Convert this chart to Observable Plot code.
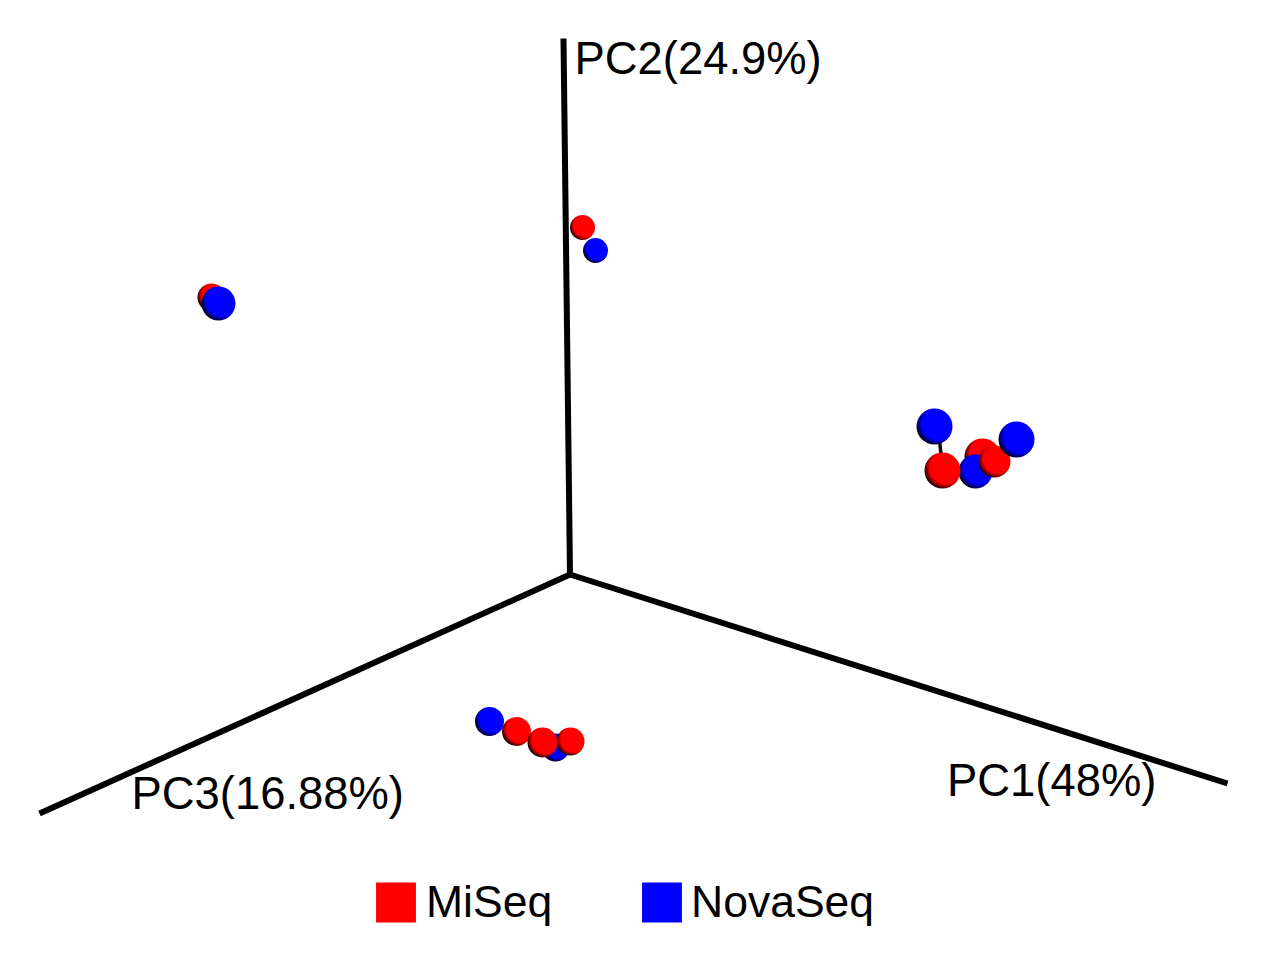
<!DOCTYPE html>
<html>
<head>
<meta charset="utf-8">
<script src="https://cdn.jsdelivr.net/npm/d3@7"></script>
<script src="https://cdn.jsdelivr.net/npm/@observablehq/plot@0.6"></script>
<style>html,body{margin:0;padding:0;background:#fff}svg{display:block}</style>
</head>
<body>
<div id="chart"></div>
<script>
// Projected PCoA positions; listed back to front
const sampleGroup = ["MiSeq","NovaSeq","MiSeq","NovaSeq","MiSeq","NovaSeq","MiSeq","NovaSeq","NovaSeq","MiSeq","NovaSeq","MiSeq","NovaSeq","MiSeq","MiSeq"];
const sampleX = [211,218,582,595,982,975,994,934,1016,942,489,516,555,570,542];
const sampleY = [297,303,227,250,456,471,461,426,439,470,721,731,747,741,742];
const sampleR = [14,17,12.5,12.5,18,17,16,18,18,18,14.5,14.5,14,14,15];

const axisNames = ["PC1(48%)","PC2(24.9%)","PC3(16.88%)"];
const axisEndX = [1227,563,39];
const axisEndY = [783,38,813];
const originX = 569.5;
const originY = 574;
const axisLabelX = [946.5,574,131];
const axisLabelY = [781,59,794];

const groups = ["MiSeq","NovaSeq"];
const groupColors = ["#ff0000","#0000ff"];
const shadeColors = ["#1a0303","#030318"];
const legendSwatchX = [395.5,661.5];
const legendLabelX = [425.5,690.5];
const legendY = [902,902];

// Paired-sample connector seen between two spheres
const linkX1 = [939];
const linkY1 = [440];
const linkX2 = [941];
const linkY2 = [458];

const samples = sampleX.map((x, i) => ({x, y: sampleY[i], r: sampleR[i], group: sampleGroup[i]}));
const axesData = axisNames.map((name, i) => ({name, x: axisEndX[i], y: axisEndY[i], lx: axisLabelX[i], ly: axisLabelY[i]}));
const legendData = groups.map((name, i) => ({name, color: groupColors[i], sx: legendSwatchX[i], lx: legendLabelX[i], y: legendY[i]}));
const links = linkX1.map((x, i) => ({x1: x, y1: linkY1[i], x2: linkX2[i], y2: linkY2[i]}));

const gradientId = g => "sphere-" + g;

function gradients() {
  const g = d3.create("svg:g");
  const defs = g.append("defs");
  groups.forEach((name, i) => {
    const rg = defs.append("radialGradient")
      .attr("id", gradientId(name))
      .attr("cx", "0.6").attr("cy", "0.42").attr("r", "0.68")
      .attr("fx", "0.6").attr("fy", "0.42");
    rg.append("stop").attr("offset", "0").attr("stop-color", groupColors[i]);
    rg.append("stop").attr("offset", "0.66").attr("stop-color", groupColors[i]);
    rg.append("stop").attr("offset", "0.9").attr("stop-color", shadeColors[i]);
  });
  return g.node();
}

const chart = Plot.plot({
  width: 1269,
  height: 963,
  margin: 0,
  x: {domain: [0, 1269], range: [0, 1269], axis: null},
  y: {domain: [0, 963], range: [0, 963], axis: null},
  r: {type: "identity"},
  style: {background: "#fff", fontFamily: "'Liberation Sans', Arial, sans-serif"},
  marks: [
    gradients,
    Plot.link(axesData, {x1: () => originX, y1: () => originY, x2: "x", y2: "y", stroke: "#000", strokeWidth: 6, strokeLinecap: "butt"}),
    Plot.link(links, {x1: "x1", y1: "y1", x2: "x2", y2: "y2", stroke: "#111", strokeWidth: 3.5}),
    Plot.dot(samples, {x: "x", y: "y", r: "r", sort: null, fill: d => `url(#${gradientId(d.group)})`, stroke: "none"}),
    Plot.text(axesData, {x: "lx", y: "ly", text: "name", textAnchor: "start", fontSize: 45.4, fill: "#000"}),
    Plot.dot(legendData, {x: "sx", y: "y", symbol: "square", r: 22.5, fill: "color", stroke: "none"}),
    Plot.text(legendData, {x: "lx", y: "y", text: "name", textAnchor: "start", fontSize: 44.5, fill: "#000"})
  ]
});
document.getElementById("chart").append(chart);
</script>
</body>
</html>
